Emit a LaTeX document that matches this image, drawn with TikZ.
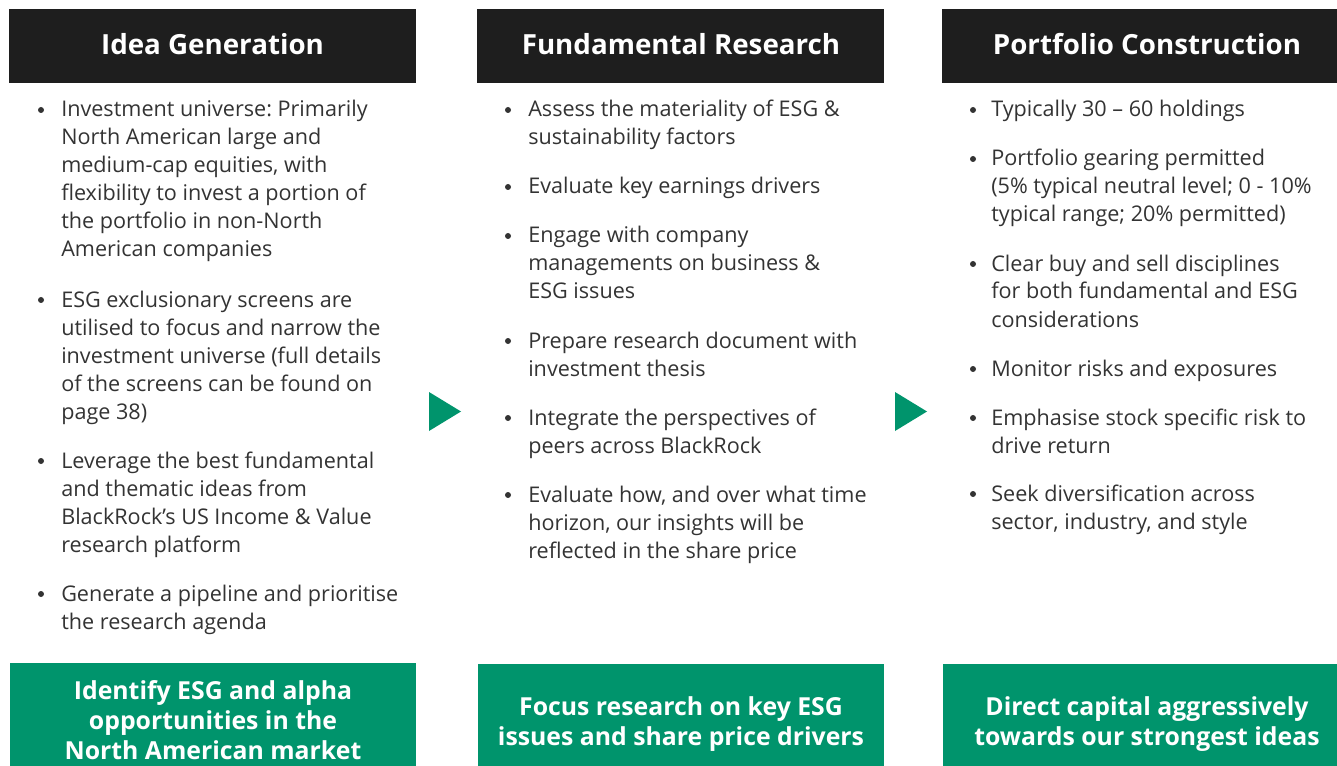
\documentclass[tikz,border=0pt]{standalone}
\usepackage{fontspec}
\setmainfont{Open Sans}
\frenchspacing
\definecolor{headblack}{HTML}{1E1E1E}
\definecolor{brgreen}{HTML}{00946C}
\definecolor{bodygray}{HTML}{333333}
\tikzset{
  headbox/.style={fill=headblack},
  headtext/.style={text=white, font={\fontsize{20.8}{24}\selectfont\bfseries}},
  goalbox/.style={fill=brgreen},
  goaltext/.style={text=white, align=center, font={\fontsize{18.6}{22.5}\selectfont\bfseries}},
  itemdot/.style={circle, fill=bodygray, inner sep=0pt, minimum size=4.5pt},
  % base anchor sits on the last line
  itemtext/.style={anchor=base west, align=left, inner sep=0pt, text=bodygray, font={\fontsize{16.2}{21}\selectfont}}
}

\begin{document}
\begin{tikzpicture}[x=0.75pt, y=-0.75pt]
    \useasboundingbox (0,0) rectangle (1337,766);
    % headers
    \fill[headbox] (9,9) rectangle (416,83);
    \fill[headbox] (477,9) rectangle (884,83);
    \fill[headbox] (942,9) rectangle (1337,83);
    \node[headtext] (ideahead) at (212.5,44) {Idea Generation};
    \node[headtext] (researchhead) at (681,44) {Fundamental Research};
    \node[headtext] (portfoliohead) at (1147,44) {Portfolio Construction};

    % flow arrows
    \fill[brgreen] (429,392) -- (461,411.5) -- (429,431) -- cycle;
    \fill[brgreen] (895,392) -- (927,411.5) -- (895,431) -- cycle;

    % idea generation
    \node[itemdot] (d11) at (41,110) {};
    \node[itemtext] (i11) at (61,257) {Investment universe: Primarily\\North American large and\\medium-cap equities, with\\flexibility to invest a portion of\\the portfolio in non-North\\American companies};
    \node[itemdot] (d12) at (41,300) {};
    \node[itemtext] (i12) at (61,419) {ESG exclusionary screens are\\utilised to focus and narrow the\\investment universe (full details\\of the screens can be found on\\page 38)};
    \node[itemdot] (d13) at (41,461) {};
    \node[itemtext] (i13) at (61,552) {Leverage the best fundamental\\and thematic ideas from\\BlackRock’s US Income \& Value\\research platform};
    \node[itemdot] (d14) at (41,594) {};
    \node[itemtext] (i14) at (61,629) {Generate a pipeline and prioritise\\the research agenda};

    % fundamental research
    \node[itemdot] (d21) at (508,110) {};
    \node[itemtext] (i21) at (528,145) {Assess the materiality of ESG \&\\sustainability factors};
    \node[itemdot] (d22) at (508,187) {};
    \node[itemtext] (i22) at (528,194) {Evaluate key earnings drivers};
    \node[itemdot] (d23) at (508,236) {};
    \node[itemtext] (i23) at (528,299) {Engage with company\\managements on business \&\\ESG issues};
    \node[itemdot] (d24) at (508,341) {};
    \node[itemtext] (i24) at (528,376) {Prepare research document with\\investment thesis};
    \node[itemdot] (d25) at (508,418) {};
    \node[itemtext] (i25) at (528,453) {Integrate the perspectives of\\peers across BlackRock};
    \node[itemdot] (d26) at (508,495) {};
    \node[itemtext] (i26) at (528,558) {Evaluate how, and over what time\\horizon, our insights will be\\reflected in the share price};

    % portfolio construction
    \node[itemdot] (d31) at (973,110) {};
    \node[itemtext] (i31) at (991,117) {Typically 30 – 60 holdings};
    \node[itemdot] (d32) at (973,159) {};
    \node[itemtext] (i32) at (991,222) {Portfolio gearing permitted\\(5\% typical neutral level; 0 - 10\%\\typical range; 20\% permitted)};
    \node[itemdot] (d33) at (973,264) {};
    \node[itemtext] (i33) at (991,327) {Clear buy and sell disciplines\\for both fundamental and ESG\\considerations};
    \node[itemdot] (d34) at (973,369) {};
    \node[itemtext] (i34) at (991,376) {Monitor risks and exposures};
    \node[itemdot] (d35) at (973,418) {};
    \node[itemtext] (i35) at (991,453) {Emphasise stock specific risk to\\drive return};
    \node[itemdot] (d36) at (973,494) {};
    \node[itemtext] (i36) at (991,529) {Seek diversification across\\sector, industry, and style};

    % goals
    \fill[goalbox] (10,663) rectangle (416,766);
    \fill[goalbox] (478,664) rectangle (884,766);
    \fill[goalbox] (943,664) rectangle (1337,766);
    \node[goaltext] (ideagoal) at (213,720) {Identify ESG and alpha\\opportunities in the\\North American market};
    \node[goaltext] (researchgoal) at (681,724) {Focus research on key ESG\\issues and share price drivers};
    \node[goaltext] (portfoliogoal) at (1147,724) {Direct capital aggressively\\towards our strongest ideas};
\end{tikzpicture}
\end{document}
